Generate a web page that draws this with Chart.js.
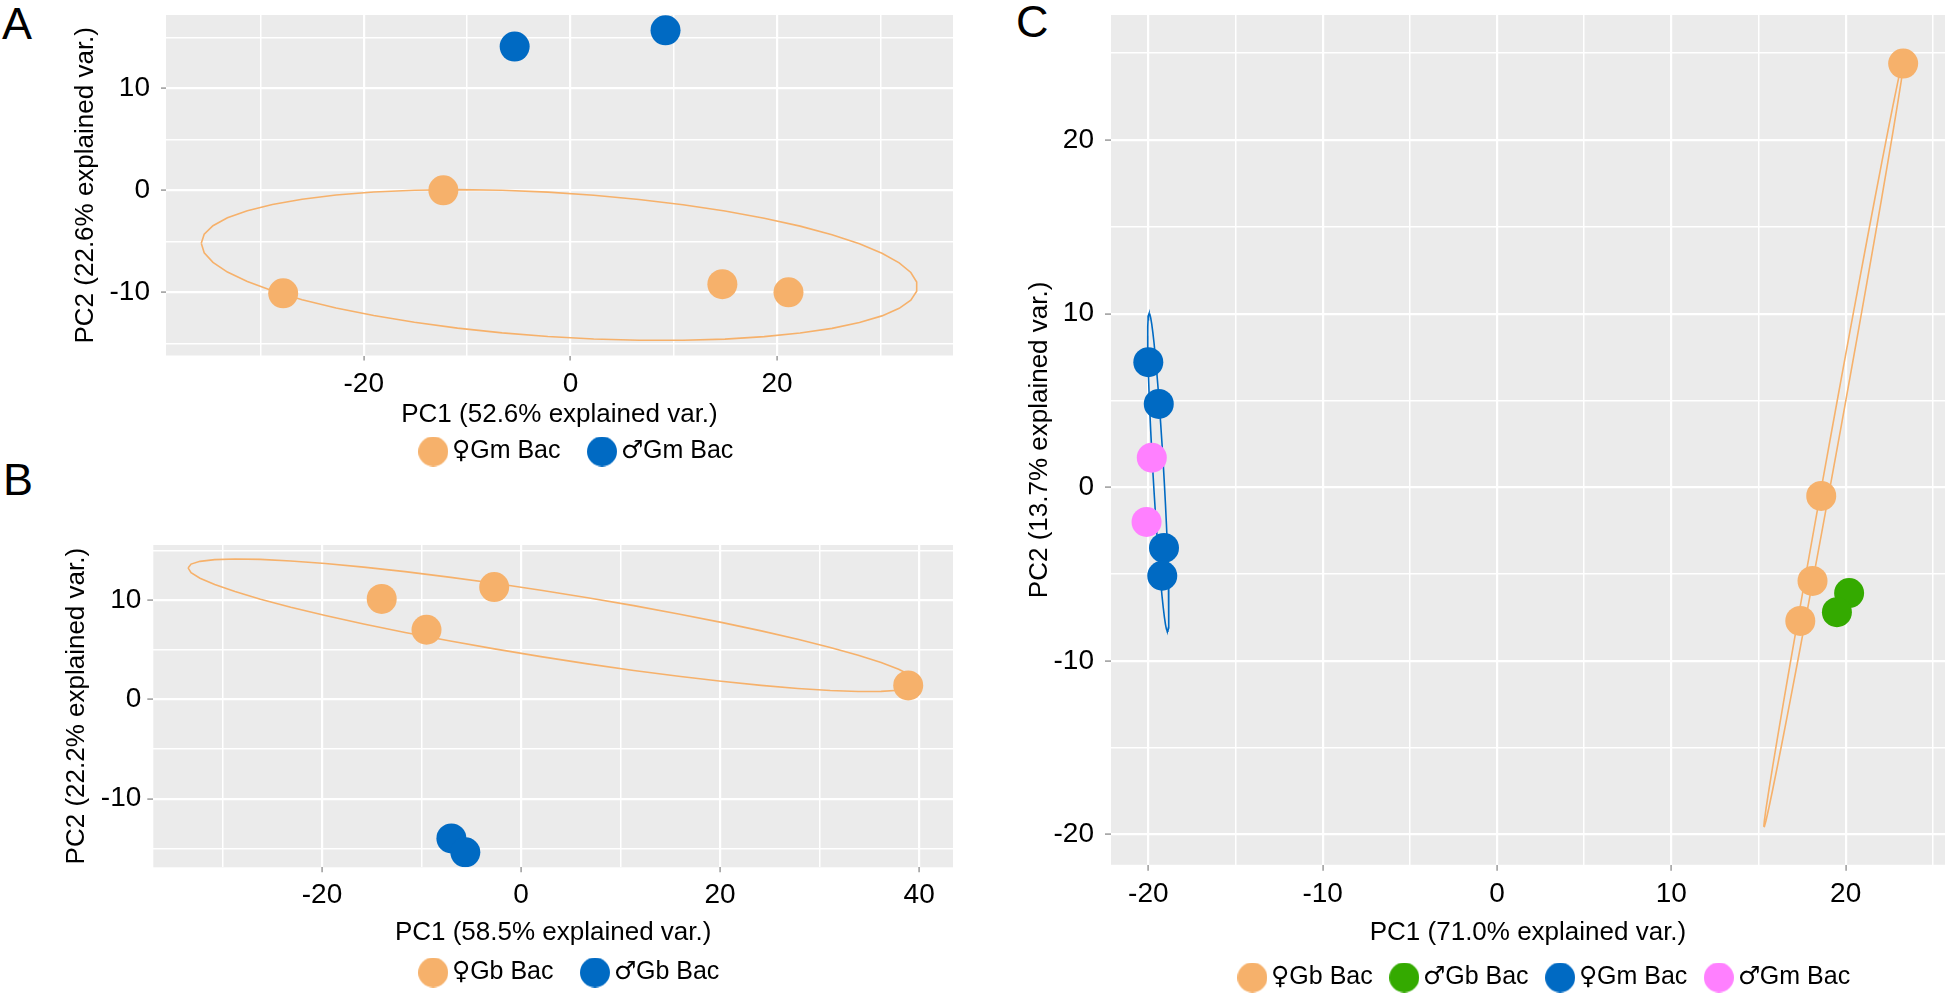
<!DOCTYPE html>
<html>
<head>
<meta charset="utf-8">
<title>PCA panels</title>
<script src="https://cdn.jsdelivr.net/npm/chart.js@4.4.1/dist/chart.umd.min.js"></script>
<style>
  /* only the sex symbols come from DejaVu, the rest stays Liberation Sans */
  @font-face { font-family: 'SexSym'; src: local('DejaVu Sans'), local('DejaVuSans'); unicode-range: U+2640-2642; }
  html, body { margin: 0; padding: 0; background: #fff; overflow: hidden; width: 1946px; height: 996px; }
  .tag { position: absolute; font-family: 'Liberation Sans', Arial, sans-serif; font-size: 45px; line-height: 45px; color: #000; }
  canvas { position: absolute; }
</style>
</head>
<body>
<div class="tag" style="left:2px;top:1px">A</div>
<div class="tag" style="left:3px;top:457px">B</div>
<div class="tag" style="left:1016px;top:-1px">C</div>

<canvas id="chartA" width="1160" height="474" style="left:0;top:0"></canvas>
<canvas id="chartB" width="1146" height="475" style="left:0;top:520px"></canvas>
<canvas id="chartC" width="1116" height="1000" style="left:990px;top:0"></canvas>

<script>
// Panel A - Gm Bac
const aFemaleX = [-12.3, -27.8, 14.7, 21.1];
const aFemaleY = [0.0, -10.1, -9.2, -10.0];
const aMaleX = [-5.4, 9.2];
const aMaleY = [14.1, 15.7];
const aXTicks = [-30, -20, -10, 0, 10, 20, 30];
const aXLabels = [-20, 0, 20];
const aYTicks = [-15, -10, -5, 0, 5, 10, 15];
const aYLabels = [-10, 0, 10];

// Panel B - Gb Bac
const bFemaleX = [-14.0, -2.7, -9.5, 38.9];
const bFemaleY = [10.1, 11.3, 7.0, 1.4];
const bMaleX = [-7.0, -5.6];
const bMaleY = [-14.0, -15.4];
const bXTicks = [-30, -20, -10, 0, 10, 20, 30, 40];
const bXLabels = [-20, 0, 20, 40];
const bYTicks = [-15, -10, -5, 0, 5, 10, 15];
const bYLabels = [-10, 0, 10];

// Panel C - Gb + Gm Bac
const cGbFemaleX = [23.3, 18.6, 18.1, 17.4];
const cGbFemaleY = [24.4, -0.5, -5.4, -7.7];
const cGbMaleX = [20.2, 19.5];
const cGbMaleY = [-6.1, -7.2];
const cGmFemaleX = [-20.0, -19.4, -19.1, -19.2];
const cGmFemaleY = [7.2, 4.8, -3.5, -5.1];
const cGmMaleX = [-19.8, -20.1];
const cGmMaleY = [1.7, -2.0];
const cXTicks = [-20, -15, -10, -5, 0, 5, 10, 15, 20, 25];
const cXLabels = [-20, -10, 0, 10, 20];
const cYTicks = [-20, -15, -10, -5, 0, 5, 10, 15, 20, 25];
const cYLabels = [-20, -10, 0, 10, 20];

// colours
const ORANGE = '#F6B16B';
const BLUE = '#006AC3';
const GREEN = '#34AA00';
const PINK = '#FF80FF';

Chart.defaults.font.family = "'Liberation Sans', Arial, sans-serif";
Chart.defaults.color = '#000';

// grey panel behind the grid
const panelBackground = {
  id: 'panelBackground',
  beforeDraw(chart) {
    const { ctx, chartArea } = chart;
    ctx.save();
    ctx.fillStyle = '#EBEBEB';
    ctx.fillRect(chartArea.left, chartArea.top, chartArea.right - chartArea.left, chartArea.bottom - chartArea.top);
    ctx.restore();
  }
};

// 68% normal data ellipse, same recipe as ggbiplot (circle %*% chol(sigma))
function dataEllipse(xs, ys, prob) {
  const n = xs.length;
  const mx = xs.reduce((s, v) => s + v, 0) / n;
  const my = ys.reduce((s, v) => s + v, 0) / n;
  let sxx = 0, syy = 0, sxy = 0;
  for (let i = 0; i < n; i++) {
    sxx += (xs[i] - mx) * (xs[i] - mx);
    syy += (ys[i] - my) * (ys[i] - my);
    sxy += (xs[i] - mx) * (ys[i] - my);
  }
  sxx /= n - 1; syy /= n - 1; sxy /= n - 1;
  const a = Math.sqrt(sxx);
  const b = sxy / a;
  const c = Math.sqrt(syy - b * b);
  const ed = Math.sqrt(-2 * Math.log(1 - prob));
  const thetas = [];
  for (let i = 0; i < 50; i++) thetas.push(-Math.PI + 2 * Math.PI * i / 49);
  for (let i = 0; i < 50; i++) thetas.push(Math.PI - 2 * Math.PI * i / 49);
  return thetas.map(t => ({
    x: mx + ed * Math.cos(t) * a,
    y: my + ed * (Math.cos(t) * b + Math.sin(t) * c)
  }));
}

function toPoints(xs, ys) {
  return xs.map((x, i) => ({ x: x, y: ys[i] }));
}

// 30px dot used as the legend key
function legendDot(color) {
  const c = document.createElement('canvas');
  c.width = 30;
  c.height = 30;
  const g = c.getContext('2d');
  g.fillStyle = color;
  g.beginPath();
  g.arc(15, 15, 15, 0, Math.PI * 2);
  g.fill();
  return c;
}

function pointSet(label, xs, ys, color) {
  return {
    label: label,
    data: toPoints(xs, ys),
    backgroundColor: color,
    pointBackgroundColor: color,
    pointBorderWidth: 0,
    borderWidth: 0,
    pointRadius: 15,
    pointHoverRadius: 15,
    pointStyle: 'circle'
  };
}

function ellipseSet(xs, ys, color) {
  return {
    label: '',
    isEllipse: true,
    data: dataEllipse(xs, ys, 0.68),
    showLine: true,
    borderColor: color,
    borderWidth: 1.6,
    pointRadius: 0,
    fill: false,
    tension: 0
  };
}

function axis(p, ticks, labels, title, isX) {
  const major = v => labels.includes(v);
  return {
    type: 'linear',
    position: isX ? 'bottom' : 'left',
    min: p.min,
    max: p.max,
    afterBuildTicks: s => { s.ticks = ticks.map(v => ({ value: v })); },
    afterFit: s => {
      if (isX) s.height = p.size; else s.width = p.size;
      // no extra room for half labels at the ends
      s.paddingTop = 0; s.paddingBottom = 0; s.paddingLeft = 0; s.paddingRight = 0;
    },
    border: { display: false },
    grid: {
      color: '#FFFFFF',
      lineWidth: c => (c.tick && major(c.tick.value)) ? 2.2 : 1.5,
      tickLength: p.tickLength,
      tickWidth: 1.5,
      tickColor: c => (c.tick && major(c.tick.value)) ? '#9A9A9A' : 'rgba(0,0,0,0)'
    },
    ticks: {
      autoSkip: false,
      maxRotation: 0,
      padding: p.tickPad,
      font: { size: 28 },
      color: '#000',
      callback: v => major(v) ? String(v) : ''
    },
    title: {
      display: true,
      text: title,
      font: { size: 26 },
      color: '#000',
      padding: isX ? { top: 0, bottom: p.titlePad } : { top: p.titlePad, bottom: 0 }
    }
  };
}

function buildPanel(id, panel) {
  return new Chart(document.getElementById(id), {
    type: 'scatter',
    data: { datasets: panel.datasets },
    options: {
      responsive: false,
      animation: false,
      devicePixelRatio: 1,
      layout: { padding: { top: panel.top, left: 0, right: 0, bottom: 0 } },
      scales: {
        x: axis(panel.x, panel.xTicks, panel.xLabels, panel.xTitle, true),
        y: axis(panel.y, panel.yTicks, panel.yLabels, panel.yTitle, false),
        // empty right-hand axis, only used to centre the legend like ggplot does
        gap: {
          type: 'linear',
          position: 'right',
          display: true,
          grid: { display: false, drawTicks: false },
          border: { display: false },
          ticks: { display: false },
          afterFit: s => { s.width = panel.gap; }
        }
      },
      plugins: {
        tooltip: { enabled: false },
        legend: {
          position: 'bottom',
          align: 'center',
          labels: {
            usePointStyle: true,
            pointStyleWidth: 13,
            padding: panel.legendPad,
            font: { size: 25, family: "SexSym, 'Liberation Sans', Arial, sans-serif" },
            color: '#000',
            generateLabels: chart => Chart.defaults.plugins.legend.labels.generateLabels(chart)
              .filter(item => !chart.data.datasets[item.datasetIndex].isEllipse)
              .map(item => Object.assign(item, {
                pointStyle: legendDot(chart.data.datasets[item.datasetIndex].backgroundColor)
              }))
          }
        }
      }
    },
    plugins: [panelBackground]
  });
}

const charts = [];

charts.push(buildPanel('chartA', {
  datasets: [
    pointSet('\u2640Gm Bac', aFemaleX, aFemaleY, ORANGE),
    pointSet('\u2642Gm Bac', aMaleX, aMaleY, BLUE),
    ellipseSet(aFemaleX, aFemaleY, ORANGE)
  ],
  xTicks: aXTicks, xLabels: aXLabels, yTicks: aYTicks, yLabels: aYLabels,
  xTitle: 'PC1 (52.6% explained var.)',
  yTitle: 'PC2 (22.6% explained var.)',
  x: { min: -39.14, max: 37.02, size: 48.5, tickLength: 5, tickPad: 7, titlePad: -26.6 },
  y: { min: -16.2, max: 17.2, size: 166, tickLength: 5, tickPad: 11, titlePad: 70 },
  top: 10, gap: 207, legendPad: 35
}));

charts.push(buildPanel('chartB', {
  datasets: [
    pointSet('\u2640Gb Bac', bFemaleX, bFemaleY, ORANGE),
    pointSet('\u2642Gb Bac', bMaleX, bMaleY, BLUE),
    ellipseSet(bFemaleX, bFemaleY, ORANGE)
  ],
  xTicks: bXTicks, xLabels: bXLabels, yTicks: bYTicks, yLabels: bYLabels,
  xTitle: 'PC1 (58.5% explained var.)',
  yTitle: 'PC2 (22.2% explained var.)',
  x: { min: -36.95, max: 43.4, size: 57.7, tickLength: 5, tickPad: 6, titlePad: -23.6 },
  y: { min: -16.91, max: 15.53, size: 153.3, tickLength: 6, tickPad: 6, titlePad: 61 },
  top: 25, gap: 193, legendPad: 35
}));

charts.push(buildPanel('chartC', {
  datasets: [
    pointSet('\u2640Gb Bac', cGbFemaleX, cGbFemaleY, ORANGE),
    pointSet('\u2642Gb Bac', cGbMaleX, cGbMaleY, GREEN),
    pointSet('\u2640Gm Bac', cGmFemaleX, cGmFemaleY, BLUE),
    pointSet('\u2642Gm Bac', cGmMaleX, cGmMaleY, PINK),
    ellipseSet(cGbFemaleX, cGbFemaleY, ORANGE),
    ellipseSet(cGmFemaleX, cGmFemaleY, BLUE)
  ],
  xTicks: cXTicks, xLabels: cXLabels, yTicks: cYTicks, yLabels: cYLabels,
  xTitle: 'PC1 (71.0% explained var.)',
  yTitle: 'PC2 (13.7% explained var.)',
  x: { min: -22.14, max: 25.7, size: 75.2, tickLength: 6, tickPad: 7, titlePad: -8.6 },
  y: { min: -21.75, max: 27.2, size: 121, tickLength: 6, tickPad: 11, titlePad: 34.4 },
  top: 11.7, gap: 161, legendPad: 25
}));

// redraw once the symbol font is ready
if (document.fonts && document.fonts.load) {
  document.fonts.load("25px SexSym", "\u2640\u2642").then(() => charts.forEach(c => c.update()));
}
</script>
</body>
</html>
